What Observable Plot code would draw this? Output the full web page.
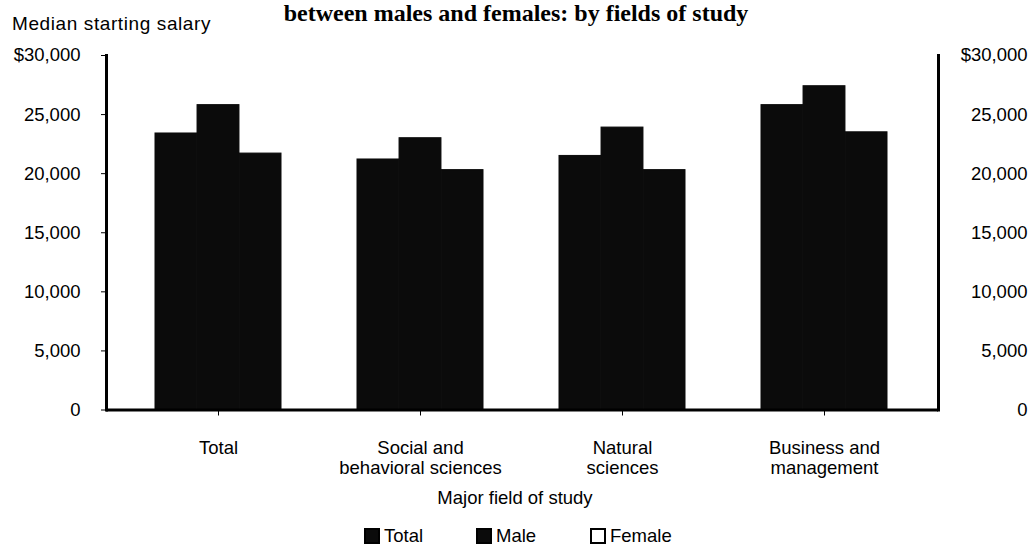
<!DOCTYPE html>
<html>
<head>
<meta charset="utf-8">
<script src="https://cdn.jsdelivr.net/npm/d3@7"></script>
<script src="https://cdn.jsdelivr.net/npm/@observablehq/plot@0.6"></script>
<style>
  html, body { margin: 0; padding: 0; background: #fff; }
  #wrap { position: relative; width: 1034px; height: 554px; overflow: hidden; font-family: "Liberation Sans", Arial, sans-serif; color: #000; }
  #title { position: absolute; left: 0; top: 0px; width: 1032px; text-align: center; font-family: "Liberation Serif", "Times New Roman", serif; font-weight: bold; font-size: 24px; line-height: 26px; white-space: nowrap; }
  #ylabel { position: absolute; left: 12px; top: 14px; font-size: 19px; line-height: 19px; letter-spacing: 0.6px; white-space: nowrap; }
  #chart { position: absolute; left: 0; top: 35px; }
  #xlabel { position: absolute; left: 0; width: 1030px; top: 488px; text-align: center; font-size: 18.5px; line-height: 20px; }
  #legend { position: absolute; left: 364px; top: 526px; font-size: 18.5px; line-height: 20px; white-space: nowrap; }
  .item { position: absolute; top: 0; }
  .sw { position: absolute; top: 2px; width: 16px; height: 16px; box-sizing: border-box; }
  .lab { position: absolute; top: 0; }
</style>
</head>
<body>
<div id="wrap">
  <div id="title">between males and females: by fields of study</div>
  <div id="ylabel">Median starting salary</div>
  <div id="chart"></div>
  <div id="xlabel">Major field of study</div>
  <div id="legend"></div>
</div>
<script>
// ---- data ----
const fields = ["Total", "Social and behavioral sciences", "Natural sciences", "Business and management"];
const fieldLabels = ["Total", "Social and\nbehavioral sciences", "Natural\nsciences", "Business and\nmanagement"];
const seriesNames = ["Total", "Male", "Female"];
const totalValues = [23400, 21200, 21500, 25800];
const maleValues = [25800, 23000, 23900, 27400];
const femaleValues = [21700, 20300, 20300, 23500];
const yTicks = [0, 5000, 10000, 15000, 20000, 25000, 30000];

// ---- build table ----
const seriesValues = [totalValues, maleValues, femaleValues];
const rows = seriesNames.flatMap((s, si) =>
  fields.map((f, fi) => ({field: f, series: s, value: seriesValues[si][fi]}))
);

const W = 1034, H = 450, mL = 106, mR = 96, mT = 20, mB = 75.5;
const xOpts = {type: "band", domain: fields, paddingInner: 0.377, paddingOuter: 0.2434, align: 0.49};
const bw = Plot.scale({x: {...xOpts, range: [mL, W - mR]}}).bandwidth;
const sub = bw / seriesNames.length;
const fmt = d => d === 30000 ? "$30,000" : d3.format(",")(d);
const barFill = "#0b0b0b";

const chart = Plot.plot({
  width: W, height: H,
  marginTop: mT, marginBottom: mB, marginLeft: mL, marginRight: mR,
  x: {...xOpts, axis: null},
  y: {domain: [0, 30000], axis: null},
  style: {fontFamily: "'Liberation Sans', Arial, sans-serif", fontSize: "18.5px", color: "#000", background: "#fff", overflow: "visible"},
  marks: [
    ...seriesNames.map((s, si) => Plot.barY(rows.filter(r => r.series === s), {
      x: "field", y: "value", fill: barFill, stroke: barFill, strokeWidth: 1,
      insetLeft: si * sub, insetRight: (seriesNames.length - 1 - si) * sub
    })),
    Plot.ruleY([0], {strokeWidth: 3}),
    Plot.frame({anchor: "left", strokeWidth: 3}),
    Plot.frame({anchor: "right", strokeWidth: 3}),
    Plot.axisY({anchor: "left", ticks: yTicks, tickSize: 5, tickPadding: 21, tickFormat: fmt, label: null}),
    Plot.axisY({anchor: "right", ticks: yTicks, tickSize: 0, tickPadding: 89, textAnchor: "end", tickFormat: fmt, label: null}),
    Plot.axisX({anchor: "bottom", tickSize: 6, tickPadding: 24, lineHeight: 1.08,
      tickFormat: d => fieldLabels[fields.indexOf(d)], label: null})
  ]
});
document.getElementById("chart").appendChild(chart);

// ---- legend ----
const legendPos = [0, 112, 226];
const legendFill = {Total: barFill, Male: barFill, Female: "#fff"};
const legend = document.getElementById("legend");
seriesNames.forEach((s, i) => {
  const item = document.createElement("div");
  item.className = "item";
  item.style.left = legendPos[i] + "px";
  const sw = document.createElement("div");
  sw.className = "sw";
  sw.style.left = "0px";
  sw.style.background = legendFill[s];
  sw.style.border = "2px solid #000";
  const lab = document.createElement("div");
  lab.className = "lab";
  lab.style.left = "20px";
  lab.textContent = s;
  item.appendChild(sw);
  item.appendChild(lab);
  legend.appendChild(item);
});
</script>
</body>
</html>
